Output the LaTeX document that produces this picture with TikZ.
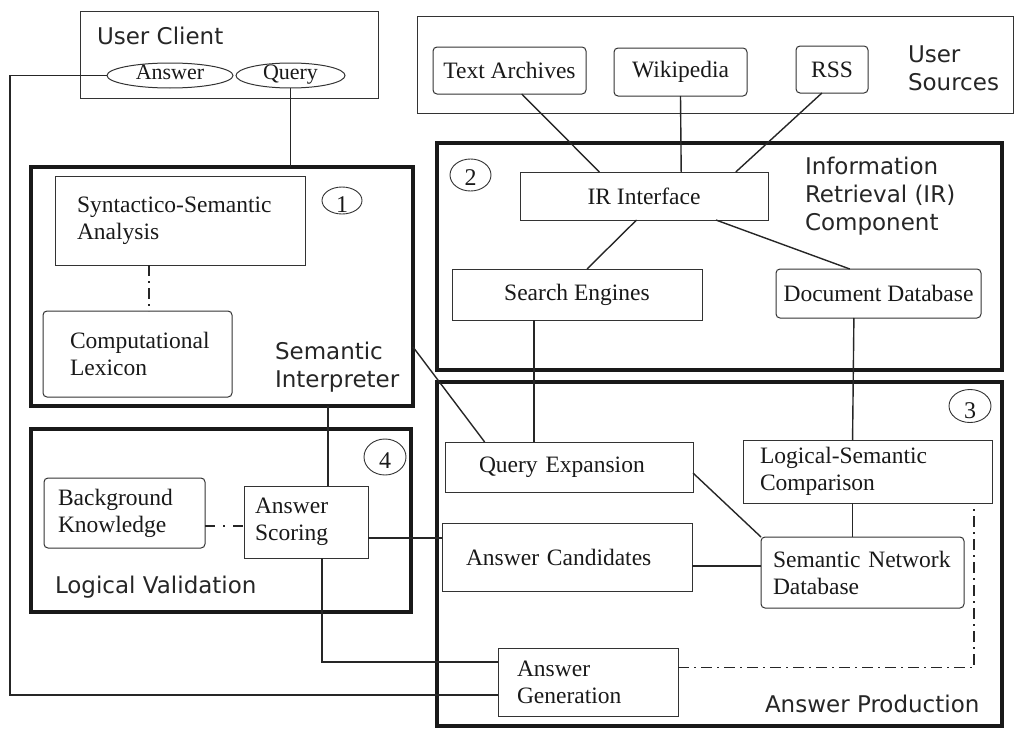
\documentclass[tikz,border=0pt]{standalone}
\usepackage{fontspec}
\setmainfont{Liberation Serif}
\newfontfamily\labfont{DejaVu Sans}
\usetikzlibrary{shapes.geometric,calc}
\begin{document}
\begin{tikzpicture}[x=1pt,y=-1pt,
  every node/.style={inner sep=0pt, outer sep=0pt},
  box/.style={draw=black!80, line width=1pt, text=black!90, font=\fontsize{23.5}{27}\selectfont, align=left},
  rbox/.style={box, rounded corners=4pt},
  frame/.style={draw=black!90, line width=4.5pt},
  outer/.style={draw=black!80, line width=1pt},
  lab/.style={font=\labfont\fontsize{23}{28}\selectfont, text=black!85, anchor=base west, align=left},
  oval/.style={ellipse, draw=black!80, line width=1pt, text=black!90, font=\fontsize{22}{24}\selectfont, text height=12pt, text depth=4pt},
  num/.style={ellipse, draw=black!80, line width=0.9pt, text=black!90, font=\fontsize{24}{24}\selectfont, text height=16pt, text depth=0pt},
  conn/.style={line width=1.4pt, draw=black!85},
  thickconn/.style={line width=2.4pt, draw=black!85},
  dashdot/.style={line width=1.4pt, draw=black!85, dash pattern=on 11pt off 5pt on 2pt off 5pt}
]
\useasboundingbox (0,0) rectangle (1017,728);

% outer boxes and frames
\node[outer, minimum width=298, minimum height=87] (UC) at (229,54.5) {};
\node[outer, minimum width=596, minimum height=97] (US) at (715,64.5) {};
\node[frame, minimum width=382, minimum height=239] (F1) at (222,286.5) {};
\node[frame, minimum width=380, minimum height=183] (F4) at (221,520.5) {};
\node[frame, minimum width=565, minimum height=227] (F2) at (719.5,256.5) {};
\node[frame, minimum width=565, minimum height=344] (F3) at (719.5,554) {};

% section labels (base = baseline of the last line)
\node[lab] (lUC) at (97,44) {User Client};
\node[lab] (lUS) at (908,90) {User\\Sources};
\node[lab] (lIR) at (805,230) {Information\\Retrieval (IR)\\Component};
\node[lab] (lSI) at (275,387) {Semantic\\Interpreter};
\node[lab] (lLV) at (55,593) {Logical Validation};
\node[lab] (lAP) at (765,712) {Answer Production};

% ellipses in user client
\node[oval, minimum width=126, minimum height=25] (Ans) at (170,75.5) {Answer};
\node[oval, minimum width=109, minimum height=25] (Qry) at (290.5,75.5) {Query};

% circled numbers
\node[num, minimum width=40, minimum height=27] (n1) at (342,200.5) {\raisebox{-4pt}{1}};
\node[num, minimum width=41, minimum height=32] (n2) at (470.5,175) {\raisebox{-2pt}{2}};
\node[num, minimum width=42, minimum height=33] (n3) at (970,406) {\raisebox{-4pt}{3}};
\node[num, minimum width=42, minimum height=36] (n4) at (385,457) {\raisebox{-3pt}{4}};

% user sources
\node[rbox, align=center, minimum width=153, minimum height=47] (TA) at (509.5,70.5) {Text Archives};
\node[rbox, align=center, minimum width=133, minimum height=48] (WK) at (680.5,72) {Wikipedia};
\node[rbox, align=center, minimum width=72, minimum height=47] (RSS) at (832,69.5) {RSS};

% IR component
\node[box, align=center, minimum width=248, minimum height=48] (IR) at (644,196) {IR Interface};
\node[box, align=center, minimum width=250, minimum height=51] (SE) at (577,294.5) {Search Engines};
\node[rbox, align=center, minimum width=205, minimum height=49] (DD) at (878.5,293.5) {Document Database};

% semantic interpreter
\node[box, text width=206, inner xsep=22, minimum height=89] (SYN) at (180,220.5) {Syntactico-Semantic\\Analysis};
\node[rbox, text width=135, inner xsep=27, minimum height=86] (LEX) at (137.5,354) {Computational\\Lexicon};

% logical validation
\node[rbox, text width=133, inner xsep=14, minimum height=70] (BK) at (124.5,513) {Background\\Knowledge};
\node[box, text width=102, inner xsep=11, minimum height=72] (AS) at (306,522) {Answer\\Scoring};

% answer production
\node[box, text width=180, inner xsep=34, minimum height=50] (QE) at (569,467) {Query Expansion};
\node[box, text width=215, inner xsep=17, minimum height=63] (LSC) at (867.5,471.5) {Logical-Semantic\\Comparison};
\node[box, text width=202, inner xsep=24, minimum height=68] (AC) at (567,557) {Answer Candidates};
\node[rbox, text width=179, inner xsep=12, minimum height=71] (SND) at (862.5,572.5) {Semantic Network\\Database};
\node[box, text width=142, inner xsep=19, minimum height=68] (AG) at (588,682) {Answer\\Generation};

% connectors
\coordinate (c1) at (10,75.5);
\coordinate (c2) at (10,695);
\draw[conn, line width=1.2pt] (Ans.west) -- (c1) -- (c2) -- (c2 -| AG.west);
\draw[conn] (Qry.south) -- (Qry.south |- F1.north);

\draw[conn] ($(TA.south west)!0.58!(TA.south east)$) -- ($(IR.north west)!0.32!(IR.north east)$);
\draw[conn] ($(WK.south west)!0.5!(WK.south east)$) -- ($(IR.north west)!0.65!(IR.north east)$);
\draw[conn] ($(RSS.south west)!0.36!(RSS.south east)$) -- ($(IR.north west)!0.87!(IR.north east)$);
\draw[conn] ($(IR.south west)!0.47!(IR.south east)$) -- ($(SE.north west)!0.54!(SE.north east)$);
\draw[conn] ($(IR.south west)!0.79!(IR.south east)$) -- ($(DD.north west)!0.36!(DD.north east)$);

\coordinate (seb) at ($(SE.south west)!0.328!(SE.south east)$);
\draw[conn] (seb) -- (seb |- QE.north);
\draw[conn] ($(DD.south west)!0.38!(DD.south east)$) -- ($(LSC.north west)!0.44!(LSC.north east)$);
\draw[conn] ($(F1.north east)!0.753!(F1.south east)$) -- ($(QE.north west)!0.16!(QE.north east)$);

\draw[dashdot] (SYN.south -| 149,0) -- (LEX.north -| 149,0);

\coordinate (asn) at ($(AS.north west)!0.677!(AS.north east)$);
\draw[conn] (asn) -- (asn |- F1.south);
\coordinate (bke) at ($(BK.north east)!0.686!(BK.south east)$);
\draw[dashdot, dash pattern=on 10pt off 8pt on 2pt off 8pt] (bke) -- (bke -| AS.west);
\coordinate (ase) at ($(AS.north east)!0.72!(AS.south east)$);
\draw[conn] (ase) -- (ase -| AC.west);
\coordinate (asb) at ($(AS.south west)!0.63!(AS.south east)$);
\draw[thickconn] (asb) |- ($(AG.north west)!0.206!(AG.south west)$);

\draw[conn] ($(QE.north east)!0.62!(QE.south east)$) -- (SND.north west);
\coordinate (lscb) at ($(LSC.south west)!0.44!(LSC.south east)$);
\draw[conn] (lscb) -- (lscb |- SND.north);
\coordinate (acr) at ($(AC.north east)!0.63!(AC.south east)$);
\draw[thickconn] (acr) -- (acr -| SND.west);

\coordinate (e1) at (974,509);
\draw[dashdot] ($(AG.north east)!0.29!(AG.south east)$) -| (e1);
\end{tikzpicture}
\end{document}
